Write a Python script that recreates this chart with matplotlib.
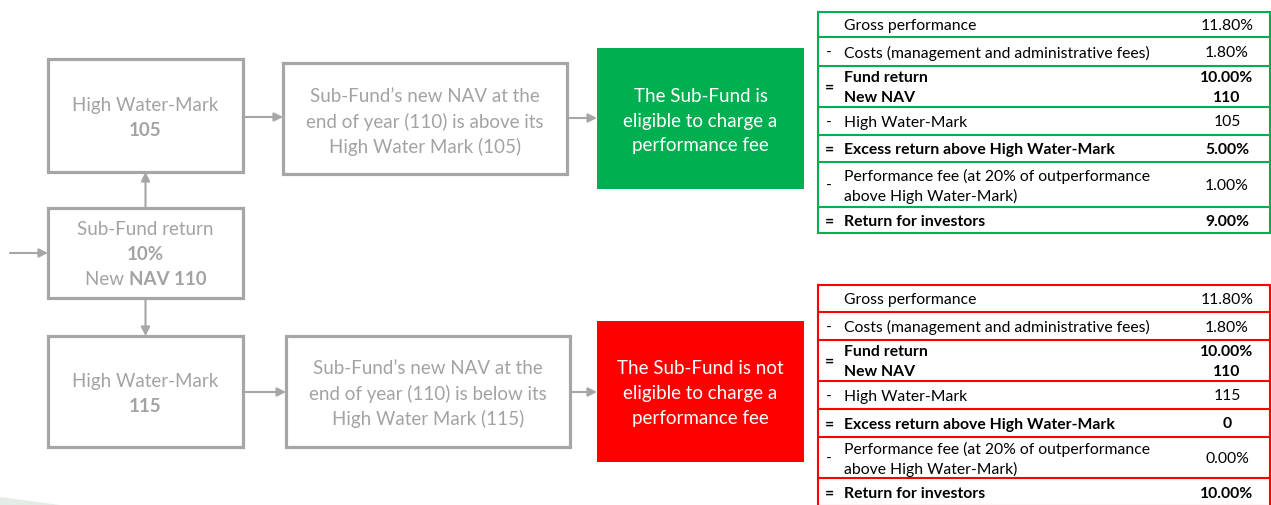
import matplotlib.pyplot as plt
from matplotlib.patches import Rectangle, Polygon

# ---- content ----
hwm_top = ["High Water-Mark", "105"]
hwm_bottom = ["High Water-Mark", "115"]
return_box = ["Sub-Fund return", "10%"]
nav_line = [("New ", "normal"), ("NAV 110", "bold")]
mid_top = ["Sub-Fund\u2019s new NAV at the", "end of year (110) is above its", "High Water Mark (105)"]
mid_bottom = ["Sub-Fund\u2019s new NAV at the", "end of year (110) is below its", "High Water Mark (115)"]
verdict_top = ["The Sub-Fund is", "eligible to charge a", "performance fee"]
verdict_bottom = ["The Sub-Fund is not", "eligible to charge a", "performance fee"]

row_labels = ["Gross performance",
              "Costs (management and administrative fees)",
              "Fund return\nNew NAV",
              "High Water-Mark",
              "Excess return above High Water-Mark",
              "Performance fee (at 20% of outperformance\nabove High Water-Mark)",
              "Return for investors"]
row_signs = ["", "-", "=", "-", "=", "-", "="]
row_bold = [False, False, True, False, True, False, True]
green_values = ["11.80%", "1.80%", "10.00%\n110", "105", "5.00%", "1.00%", "9.00%"]
red_values = ["11.80%", "1.80%", "10.00%\n110", "115", "0", "0.00%", "10.00%"]

# ---- style ----
GRAY = "#a6a6a6"
TXT_GRAY = "#a3a3a3"
GREEN = "#00b050"
RED = "#ff0000"
FONT = "Lato"
BOX_FS = 13.5
TAB_FS = 11.3

W, H = 1271, 505
fig = plt.figure(figsize=(W / 100, H / 100), dpi=100)
ax = fig.add_axes([0, 0, 1, 1])
ax.set_xlim(0, W)
ax.set_ylim(H, 0)
ax.axis("off")
renderer = fig.canvas.get_renderer()


def box(x0, y0, x1, y1, **kw):
    ax.add_patch(Rectangle((x0, y0), x1 - x0, y1 - y0, **kw))


def lines(cx, cy, texts, step, color, weights=None):
    n = len(texts)
    for i, t in enumerate(texts):
        w = weights[i] if weights else "normal"
        ax.text(cx, cy + (i - (n - 1) / 2) * step, t, ha="center", va="center",
                color=color, fontsize=BOX_FS, family=FONT, fontweight=w)


def arrow(x0, y0, x1, y1):
    ax.annotate("", xy=(x1, y1), xytext=(x0, y0),
                arrowprops=dict(arrowstyle="-|>", color=GRAY, lw=1.5,
                                mutation_scale=13, shrinkA=0, shrinkB=0))


def mixed(cx, cy, parts, color):
    objs = [ax.text(0, cy, t, ha="left", va="center", color=color, fontsize=BOX_FS,
                    family=FONT, fontweight=w) for t, w in parts]
    widths = [o.get_window_extent(renderer).width for o in objs]
    x = cx - sum(widths) / 2
    for o, w in zip(objs, widths):
        o.set_x(x)
        x += w


# faint decoration bottom-left
ax.add_patch(Polygon([(0, 497), (60, 505), (0, 505)], closed=True,
                     facecolor="#e4ece6", edgecolor="none"))

# left boxes
gkw = dict(facecolor="white", edgecolor=GRAY, lw=2.3)
box(48, 59, 243, 172, **gkw)
box(48, 208, 243, 298, **gkw)
box(48, 336, 243, 447, **gkw)
lines(145.5, 118, hwm_top, 25, TXT_GRAY, ["normal", "bold"])
lines(145.5, 394, hwm_bottom, 25, TXT_GRAY, ["normal", "bold"])
lines(145.5, 242, return_box, 25, TXT_GRAY, ["normal", "bold"])
mixed(145.5, 279.5, nav_line, TXT_GRAY)

# middle boxes
box(283, 63, 567, 174, **gkw)
box(286, 336, 570, 447, **gkw)
lines(425, 121.5, mid_top, 25, TXT_GRAY)
lines(428, 393.5, mid_bottom, 25, TXT_GRAY)

# verdict boxes
box(597, 48, 804, 189, facecolor=GREEN, edgecolor="none")
box(597, 321, 804, 462, facecolor=RED, edgecolor="none")
lines(700.5, 121, verdict_top, 25, "white")
lines(700.5, 393.5, verdict_bottom, 25, "white")

# arrows
arrow(10, 253, 48, 253)
arrow(145.5, 208, 145.5, 172)
arrow(145.5, 298, 145.5, 336)
arrow(243, 117, 283, 117)
arrow(567, 118, 597, 118)
arrow(243, 392, 286, 392)
arrow(570, 392, 597, 392)


def table(edges, values, color):
    x0, x1 = 818, 1270
    for y in edges:
        ax.plot([x0, x1], [y, y], color=color, lw=1.5, solid_capstyle="butt")
    ax.plot([x0, x0], [edges[0], edges[-1]], color=color, lw=1.5)
    ax.plot([x1, x1], [edges[0], edges[-1]], color=color, lw=1.5)
    for i in range(len(row_labels)):
        cy = (edges[i] + edges[i + 1]) / 2 + 1.5
        w = "bold" if row_bold[i] else "normal"
        ax.text(829, cy, row_signs[i], ha="center", va="center", fontsize=TAB_FS,
                family=FONT, fontweight=w, color="black")
        lab = row_labels[i].split("\n")
        val = values[i].split("\n")
        for j, t in enumerate(lab):
            ax.text(844, cy + (j - (len(lab) - 1) / 2) * 20, t, ha="left", va="center",
                    fontsize=TAB_FS, family=FONT, fontweight=w, color="black")
        for j, t in enumerate(val):
            ax.text(1227, cy + (j - (len(val) - 1) / 2) * 20, t, ha="center", va="center",
                    fontsize=TAB_FS, family=FONT, fontweight=w, color="black")


table([12, 37, 66, 107, 135, 162, 207, 233], green_values, GREEN)
table([285, 312, 340, 381, 409, 437, 478, 506], red_values, RED)

fig.savefig("out.png", dpi=100)
